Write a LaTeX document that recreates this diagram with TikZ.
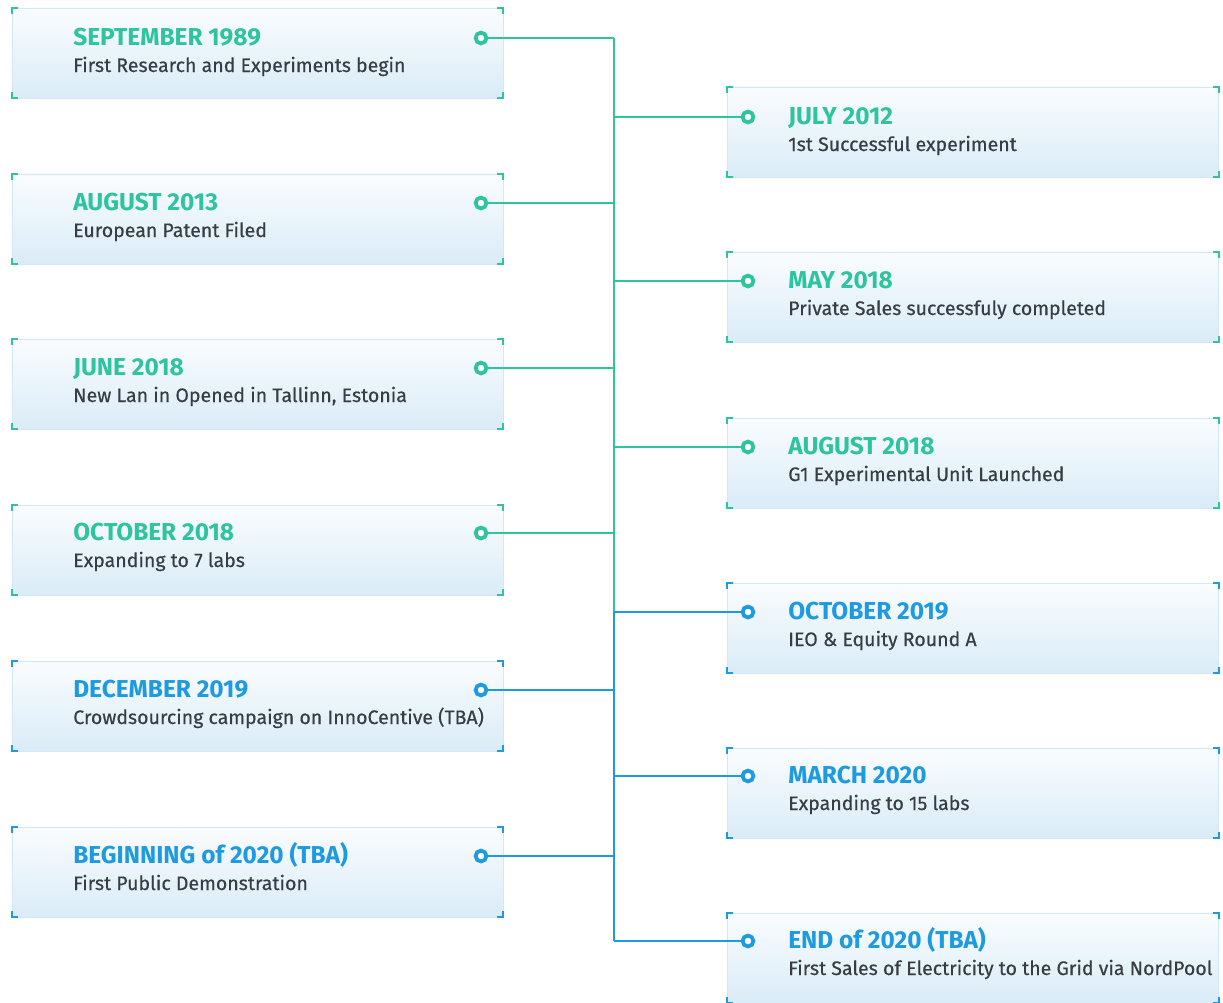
\documentclass[tikz,border=0pt]{standalone}
\usepackage{fontspec}
\setmainfont{Fira Sans}
\newfontfamily\subfont[FakeBold=0.4]{Fira Sans}
\usetikzlibrary{shapes,arrows}

\definecolor{mint}{HTML}{2EC4A0}
\definecolor{sky}{HTML}{1E9BE0}
\definecolor{ink}{HTML}{373D43}
\definecolor{frost}{HTML}{D3E8F6}

\newcommand{\brackets}[2]{%
	\draw[#2, line width=1.4pt] ([yshift=-0.15cm]#1.north west) -- (#1.north west) -- ++(6,0);
	\draw[#2, line width=1.4pt] ([yshift=-0.15cm]#1.north east) -- (#1.north east) -- ++(-6,0);
	\draw[#2, line width=1.4pt] ([yshift=0.15cm]#1.south west) -- (#1.south west) -- ++(6,0);
	\draw[#2, line width=1.4pt] ([yshift=0.15cm]#1.south east) -- (#1.south east) -- ++(-6,0);
}

\begin{document}
\begin{tikzpicture}[x=0.025cm, y=-0.025cm]
		\tikzstyle {card} = [rectangle, draw=frost, line width=0.6pt, top color=white!60!frost!30, bottom color=frost!85, minimum width=12.275cm, minimum height=2.25cm, inner sep=0pt, outer sep=0pt]
		\tikzstyle {date} = [anchor=base west, inner sep=0pt, font=\fontsize{17.4}{20}\selectfont\bfseries]
		\tikzstyle {what} = [anchor=base west, inner sep=0pt, text=ink, font=\fontsize{13.9}{16}\subfont]
		\tikzstyle {dot} = [circle, fill=white, line width=2.7pt, minimum size=0.27cm, inner sep=0pt]
		\tikzstyle {link} = [line width=1.5pt]

		\useasboundingbox (0,0) rectangle (1223,1002);

		\node[card] (sep89) at (257.5,53) {};
		\node[card] (aug13) at (257.5,219) {};
		\node[card] (jun18) at (257.5,384) {};
		\node[card] (oct18) at (257.5,550) {};
		\node[card] (dec19) at (257.5,706) {};
		\node[card] (beg20) at (257.5,872) {};

		\node[card] (jul12) at (973,132) {};
		\node[card] (may18) at (973,297) {};
		\node[card] (aug18) at (973,463) {};
		\node[card] (oct19) at (973,628) {};
		\node[card] (mar20) at (973,793) {};
		\node[card] (end20) at (973,958) {};

		\brackets{sep89}{mint}
		\brackets{aug13}{mint}
		\brackets{jun18}{mint}
		\brackets{oct18}{mint}
		\brackets{dec19}{sky}
		\brackets{beg20}{sky}
		\brackets{jul12}{mint}
		\brackets{may18}{mint}
		\brackets{aug18}{mint}
		\brackets{oct19}{sky}
		\brackets{mar20}{sky}
		\brackets{end20}{sky}

		\node[date, text=mint] (sep89t) at (73,45) {SEPTEMBER 1989};
		\node[what] (sep89s) at (73,72) {First Research and Experiments begin};
		\node[date, text=mint] (aug13t) at (73,210) {AUGUST 2013};
		\node[what] (aug13s) at (73,237) {European Patent Filed};
		\node[date, text=mint] (jun18t) at (73,375) {JUNE 2018};
		\node[what] (jun18s) at (73,402) {New Lan in Opened in Tallinn, Estonia};
		\node[date, text=mint] (oct18t) at (73,540) {OCTOBER 2018};
		\node[what] (oct18s) at (73,567) {Expanding to 7 labs};
		\node[date, text=sky] (dec19t) at (73,697) {DECEMBER 2019};
		\node[what] (dec19s) at (73,724) {Crowdsourcing campaign on InnoCentive (TBA)};
		\node[date, text=sky] (beg20t) at (73,863) {BEGINNING of 2020 (TBA)};
		\node[what] (beg20s) at (73,890) {First Public Demonstration};

		\node[date, text=mint] (jul12t) at (788,124) {JULY 2012};
		\node[what] (jul12s) at (788,151) {1st Successful experiment};
		\node[date, text=mint] (may18t) at (788,288) {MAY 2018};
		\node[what] (may18s) at (788,315) {Private Sales successfuly completed};
		\node[date, text=mint] (aug18t) at (788,454) {AUGUST 2018};
		\node[what] (aug18s) at (788,481) {G1 Experimental Unit Launched};
		\node[date, text=sky] (oct19t) at (788,619) {OCTOBER 2019};
		\node[what] (oct19s) at (788,646) {IEO \& Equity Round A};
		\node[date, text=sky] (mar20t) at (788,783) {MARCH 2020};
		\node[what] (mar20s) at (788,810) {Expanding to 15 labs};
		\node[date, text=sky] (end20t) at (788,948) {END of 2020 (TBA)};
		\node[what] (end20s) at (788,975) {First Sales of Electricity to the Grid via NordPool};

		\node[dot, draw=mint] (d1) at (481,38) {};
		\node[dot, draw=mint] (d2) at (481,203) {};
		\node[dot, draw=mint] (d3) at (481,368) {};
		\node[dot, draw=mint] (d4) at (481,533) {};
		\node[dot, draw=sky] (d5) at (481,690) {};
		\node[dot, draw=sky] (d6) at (481,856) {};
		\node[dot, draw=mint] (e1) at (748,117) {};
		\node[dot, draw=mint] (e2) at (748,281) {};
		\node[dot, draw=mint] (e3) at (748,447) {};
		\node[dot, draw=sky] (e4) at (748,612) {};
		\node[dot, draw=sky] (e5) at (748,776) {};
		\node[dot, draw=sky] (e6) at (748,941) {};

		\coordinate (top) at (614,38);
		\coordinate (mid) at (614,612);
		\coordinate (bot) at (614,941);

		\draw[link, mint] (top) -- (mid);
		\draw[link, sky] (mid) -- (bot);

		\draw[link, mint] (d1) -- (top);
		\draw[link, mint] (d2) -- (d2 -| top);
		\draw[link, mint] (d3) -- (d3 -| top);
		\draw[link, mint] (d4) -- (d4 -| top);
		\draw[link, sky] (d5) -- (d5 -| top);
		\draw[link, sky] (d6) -- (d6 -| top);
		\draw[link, mint] (e1 -| top) -- (e1);
		\draw[link, mint] (e2 -| top) -- (e2);
		\draw[link, mint] (e3 -| top) -- (e3);
		\draw[link, sky] (mid) -- (e4);
		\draw[link, sky] (e5 -| top) -- (e5);
		\draw[link, sky] (bot) -- (e6);

	\end{tikzpicture}
\end{document}
